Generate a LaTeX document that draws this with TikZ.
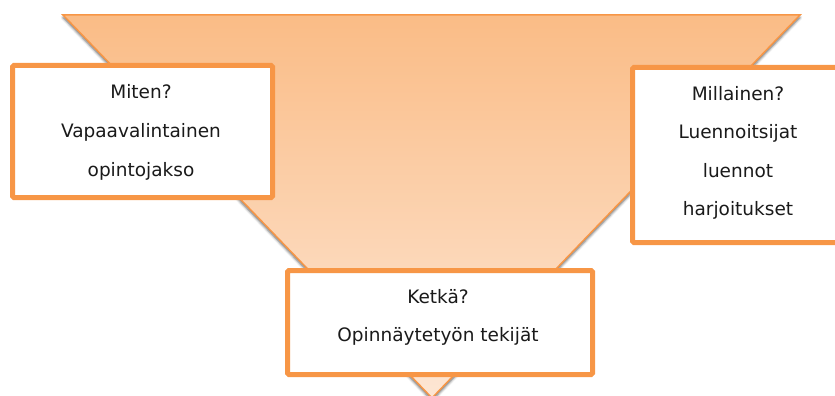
\documentclass[tikz,border=0pt]{standalone}
\usepackage{fontspec}
\setmainfont{DejaVu Sans}
\usetikzlibrary{shadows.blur}
\definecolor{accent}{RGB}{247,150,70}
\definecolor{funneltop}{RGB}{250,188,134}
\definecolor{funnelbot}{RGB}{253,230,212}
\definecolor{ink}{RGB}{26,26,26}
\begin{document}
\begin{tikzpicture}[x=1pt,y=-1pt,
  card/.style={draw=accent, line width=5pt, fill=white, rounded corners=1.5pt, inner sep=0pt},
  lbl/.style={anchor=base, inner sep=0pt, text=ink, font=\fontsize{18.5}{22}\selectfont}]
\useasboundingbox (0,0) rectangle (835,396);
\begin{scope}
\clip (0,0) rectangle (835,396);
% funnel
\path[blur shadow={shadow xshift=0pt, shadow yshift=-2.5pt, shadow blur radius=2.5pt, shadow opacity=60},
      top color=funneltop, bottom color=funnelbot, draw=accent, line width=1.5pt]
  (63,15) -- (800,15) -- (432,398) -- cycle;
% cards
\node[card, minimum width=260pt, minimum height=132pt] (how) at (142.5,131.5) {};
\node[card, minimum width=211pt, minimum height=175pt] (what) at (738,155) {};
\node[card, minimum width=305pt, minimum height=104pt] (who) at (440,322.5) {};
\end{scope}
% card texts
\node[lbl] (how1) at (141,99) {Miten?};
\node[lbl] (how2) at (141,137.5) {Vapaavalintainen};
\node[lbl] (how3) at (141,176) {opintojakso};
\node[lbl] (what1) at (738,100) {Millainen?};
\node[lbl] (what2) at (738,138.5) {Luennoitsijat};
\node[lbl] (what3) at (738,177) {luennot};
\node[lbl] (what4) at (738,215.5) {harjoitukset};
\node[lbl] (who1) at (438,303) {Ketkä?};
\node[lbl] (who2) at (438,341) {Opinnäytetyön tekijät};
\end{tikzpicture}
\end{document}
